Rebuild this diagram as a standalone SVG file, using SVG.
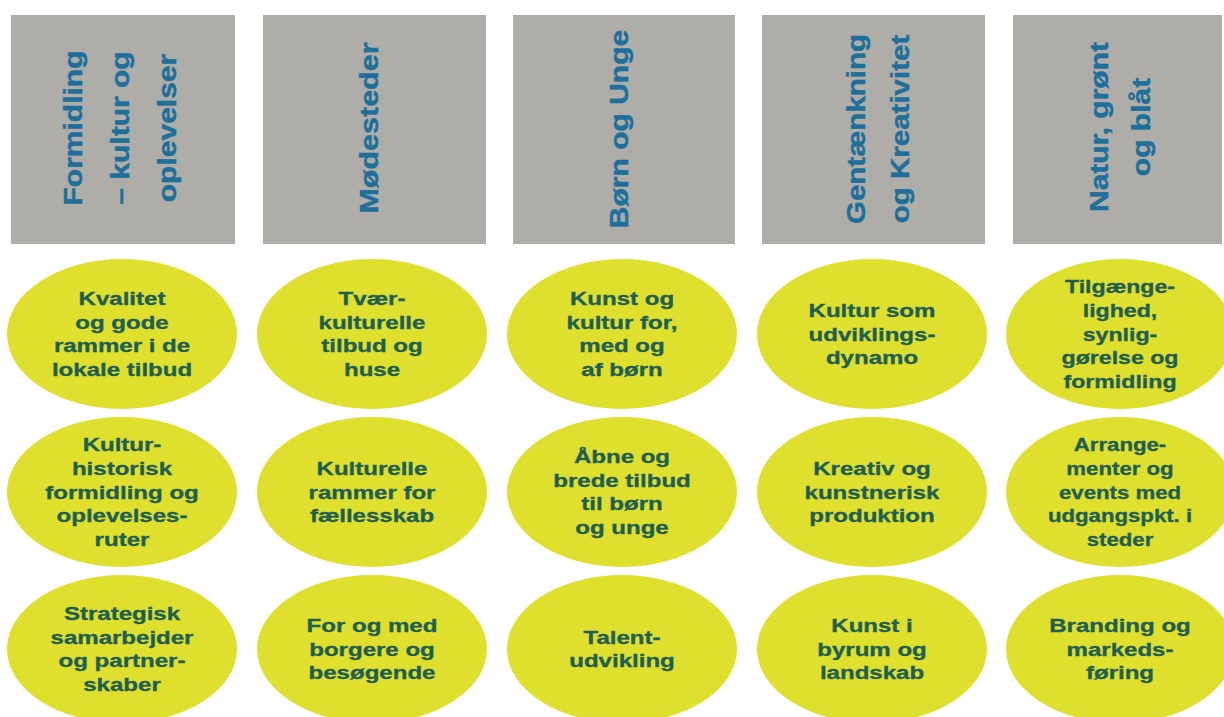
<svg xmlns="http://www.w3.org/2000/svg" width="1224" height="717" viewBox="0 0 1224 717">
<style>
.box{fill:#aeada8}
.ht{font-family:"Liberation Sans",Arial,sans-serif;font-weight:bold;font-size:25px;fill:#1d6f9c;stroke:#1d6f9c;stroke-width:0.4;text-anchor:middle}
.el{fill:#dfe02e}
.et{font-family:"Liberation Sans",Arial,sans-serif;font-weight:bold;font-size:18.5px;fill:#1f5f52;stroke:#1f5f52;stroke-width:0.35;text-anchor:middle}
</style>
<rect width="1224" height="717" fill="#ffffff"/>
<g id="headers">
<g id="h1"><rect class="box" x="11" y="15" width="224" height="229"/>
<text class="ht" transform="translate(123,128) rotate(-90) scale(1.2,1)"><tspan x="0" y="-41">Formidling</tspan><tspan x="0" y="6">– kultur og</tspan><tspan x="0" y="53">oplevelser</tspan></text></g>
<g id="h2"><rect class="box" x="263" y="15" width="223" height="229"/>
<text class="ht" transform="translate(374,128) rotate(-90) scale(1.22,1)"><tspan x="0" y="4">Mødesteder</tspan></text></g>
<g id="h3"><rect class="box" x="513" y="15" width="222" height="229"/>
<text class="ht" transform="translate(624,129) rotate(-90) scale(1.2,1)"><tspan x="0" y="4">Børn og Unge</tspan></text></g>
<g id="h4"><rect class="box" x="762" y="15" width="223" height="229"/>
<text class="ht" transform="translate(873,129) rotate(-90) scale(1.18,1)"><tspan x="0" y="-8">Gentænkning</tspan><tspan x="0" y="36">og Kreativitet</tspan></text></g>
<g id="h5"><rect class="box" x="1013" y="15" width="209" height="229"/>
<text class="ht" transform="translate(1117,127) rotate(-90) scale(1.2,1)"><tspan x="0" y="-9">Natur, grønt</tspan><tspan x="0" y="33">og blåt</tspan></text></g>
</g>
<g id="items">
<g id="c1r1"><ellipse class="el" cx="122" cy="334" rx="115" ry="75"/>
<text class="et" transform="translate(122,334) scale(1.3,1)"><tspan x="0" y="-29.5">Kvalitet</tspan><tspan x="0" y="-5.5">og gode</tspan><tspan x="0" y="18.5">rammer i de</tspan><tspan x="0" y="42.5">lokale tilbud</tspan></text></g>
<g id="c1r2"><ellipse class="el" cx="122" cy="492" rx="115" ry="75"/>
<text class="et" transform="translate(122,492) scale(1.3,1)"><tspan x="0" y="-41.5">Kultur-</tspan><tspan x="0" y="-17.5">historisk</tspan><tspan x="0" y="6.5">formidling og</tspan><tspan x="0" y="30.5">oplevelses-</tspan><tspan x="0" y="54.5">ruter</tspan></text></g>
<g id="c1r3"><ellipse class="el" cx="122" cy="649" rx="115" ry="74"/>
<text class="et" transform="translate(122,649) scale(1.3,1)"><tspan x="0" y="-29.5">Strategisk</tspan><tspan x="0" y="-5.5">samarbejder</tspan><tspan x="0" y="18.5">og partner-</tspan><tspan x="0" y="42.5">skaber</tspan></text></g>
<g id="c2r1"><ellipse class="el" cx="372" cy="334" rx="115" ry="75"/>
<text class="et" transform="translate(372,334) scale(1.3,1)"><tspan x="0" y="-29.5">Tvær-</tspan><tspan x="0" y="-5.5">kulturelle</tspan><tspan x="0" y="18.5">tilbud og</tspan><tspan x="0" y="42.5">huse</tspan></text></g>
<g id="c2r2"><ellipse class="el" cx="372" cy="492" rx="115" ry="75"/>
<text class="et" transform="translate(372,492) scale(1.3,1)"><tspan x="0" y="-17.5">Kulturelle</tspan><tspan x="0" y="6.5">rammer for</tspan><tspan x="0" y="30.5">fællesskab</tspan></text></g>
<g id="c2r3"><ellipse class="el" cx="372" cy="649" rx="115" ry="74"/>
<text class="et" transform="translate(372,649) scale(1.3,1)"><tspan x="0" y="-17.5">For og med</tspan><tspan x="0" y="6.5">borgere og</tspan><tspan x="0" y="30.5">besøgende</tspan></text></g>
<g id="c3r1"><ellipse class="el" cx="622" cy="334" rx="115" ry="75"/>
<text class="et" transform="translate(622,334) scale(1.3,1)"><tspan x="0" y="-29.5">Kunst og</tspan><tspan x="0" y="-5.5">kultur for,</tspan><tspan x="0" y="18.5">med og</tspan><tspan x="0" y="42.5">af børn</tspan></text></g>
<g id="c3r2"><ellipse class="el" cx="622" cy="492" rx="115" ry="75"/>
<text class="et" transform="translate(622,492) scale(1.3,1)"><tspan x="0" y="-29.5">Åbne og</tspan><tspan x="0" y="-5.5">brede tilbud</tspan><tspan x="0" y="18.5">til børn</tspan><tspan x="0" y="42.5">og unge</tspan></text></g>
<g id="c3r3"><ellipse class="el" cx="622" cy="649" rx="115" ry="74"/>
<text class="et" transform="translate(622,649) scale(1.3,1)"><tspan x="0" y="-5.5">Talent-</tspan><tspan x="0" y="18.5">udvikling</tspan></text></g>
<g id="c4r1"><ellipse class="el" cx="872" cy="334" rx="115" ry="75"/>
<text class="et" transform="translate(872,334) scale(1.3,1)"><tspan x="0" y="-17.5">Kultur som</tspan><tspan x="0" y="6.5">udviklings-</tspan><tspan x="0" y="30.5">dynamo</tspan></text></g>
<g id="c4r2"><ellipse class="el" cx="872" cy="492" rx="115" ry="75"/>
<text class="et" transform="translate(872,492) scale(1.3,1)"><tspan x="0" y="-17.5">Kreativ og</tspan><tspan x="0" y="6.5">kunstnerisk</tspan><tspan x="0" y="30.5">produktion</tspan></text></g>
<g id="c4r3"><ellipse class="el" cx="872" cy="649" rx="115" ry="74"/>
<text class="et" transform="translate(872,649) scale(1.3,1)"><tspan x="0" y="-17.5">Kunst i</tspan><tspan x="0" y="6.5">byrum og</tspan><tspan x="0" y="30.5">landskab</tspan></text></g>
<g id="c5r1"><ellipse class="el" cx="1120" cy="334" rx="114" ry="75"/>
<text class="et" transform="translate(1120,334) scale(1.25,1)"><tspan x="0" y="-41.5">Tilgænge-</tspan><tspan x="0" y="-17.5">lighed,</tspan><tspan x="0" y="6.5">synlig-</tspan><tspan x="0" y="30.5">gørelse og</tspan><tspan x="0" y="54.5">formidling</tspan></text></g>
<g id="c5r2"><ellipse class="el" cx="1120" cy="492" rx="114" ry="75"/>
<text class="et" transform="translate(1120,492) scale(1.2,1)"><tspan x="0" y="-41.5">Arrange-</tspan><tspan x="0" y="-17.5">menter og</tspan><tspan x="0" y="6.5">events med</tspan><tspan x="0" y="30.5">udgangspkt. i</tspan><tspan x="0" y="54.5">steder</tspan></text></g>
<g id="c5r3"><ellipse class="el" cx="1120" cy="649" rx="114" ry="74"/>
<text class="et" transform="translate(1120,649) scale(1.3,1)"><tspan x="0" y="-17.5">Branding og</tspan><tspan x="0" y="6.5">markeds-</tspan><tspan x="0" y="30.5">føring</tspan></text></g>
</g>
</svg>
